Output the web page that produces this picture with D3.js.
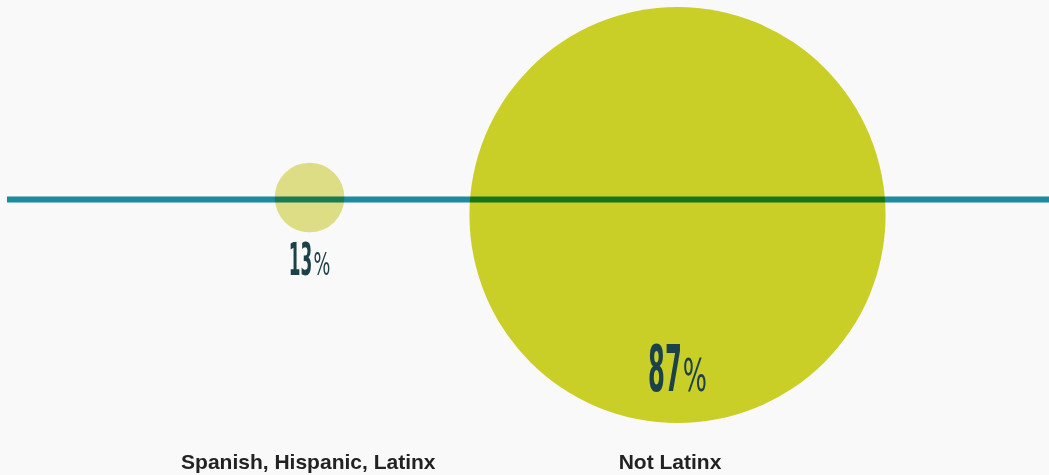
<!DOCTYPE html>
<html>
<head>
<meta charset="utf-8">
<script src="https://cdn.jsdelivr.net/npm/d3@7"></script>
<style>
  html, body { margin: 0; padding: 0; background: #f9f9f9; }
  svg { display: block; }
</style>
</head>
<body>
<svg id="chart" width="1049" height="475"></svg>
<script>
const categories = ["Spanish, Hispanic, Latinx", "Not Latinx"];
const values = [13, 87];
const fills = ["#dcdd85", "#c9cf27"];

const W = 1049, H = 475;
const svg = d3.select("#chart");
svg.append("rect").attr("width", W).attr("height", H).attr("fill", "#f9f9f9");

const x = d3.scalePoint().domain(categories).range([308.3, 670]);
const r = d3.scaleLinear().domain([0, 100]).range([4.4, 238.5]);
const font = d3.scaleLinear().domain([0, 100]).range([41.3, 67.6]);
const lineY = 199.5;

const data = categories.map((c, i) => ({ cat: c, v: values[i], fill: fills[i] }));

const cx = d => x(d.cat) + r(d.v) * 0.036;
const cy = d => lineY - 5.5 + r(d.v) * 0.101;

svg.append("g").selectAll("circle").data(data).join("circle")
  .attr("cx", cx)
  .attr("cy", cy)
  .attr("r", d => r(d.v))
  .attr("fill", d => d.fill);

svg.append("line")
  .attr("x1", 7).attr("x2", W)
  .attr("y1", lineY).attr("y2", lineY)
  .attr("stroke", "#1b8ea2")
  .attr("stroke-width", 5.8)
  .style("mix-blend-mode", "multiply");

// percent labels: condensed digits + thinner percent sign
const ff = "'Liberation Sans Narrow', 'DejaVu Sans Condensed', 'Liberation Sans', sans-serif";
const sxD = 0.42, sxP = 0.63, gap = 1;
const pl = svg.append("g").selectAll("g").data(data).join("g")
  .attr("transform", d => `translate(${cx(d)},${cy(d) + 57.7 + 0.569 * r(d.v)})`);

pl.each(function(d) {
  const g = d3.select(this);
  const gd = g.append("g");
  const td = gd.append("text")
    .attr("fill", "#1b424a")
    .style("font-family", ff)
    .style("font-weight", "700")
    .style("font-size", font(d.v) + "px")
    .text(d.v);
  const gp = g.append("g");
  const tp = gp.append("text")
    .attr("fill", "#1b424a")
    .style("font-family", ff)
    .style("font-weight", "400")
    .style("font-size", font(d.v) * 0.7 + "px")
    .text("%");
  const wd = td.node().getComputedTextLength() * sxD;
  const wp = tp.node().getComputedTextLength() * sxP;
  const total = wd + gap + wp;
  gd.attr("transform", `translate(${-total / 2},0) scale(${sxD},1)`);
  gp.attr("transform", `translate(${-total / 2 + wd + gap},0) scale(${sxP},1)`);
});

svg.append("g").selectAll("text").data(data).join("text")
  .attr("x", d => x(d.cat))
  .attr("y", 469)
  .attr("text-anchor", "middle")
  .attr("fill", "#222222")
  .style("font-family", "'Liberation Sans', Arial, sans-serif")
  .style("font-weight", "700")
  .style("font-size", "21px")
  .text(d => d.cat);
</script>
</body>
</html>
